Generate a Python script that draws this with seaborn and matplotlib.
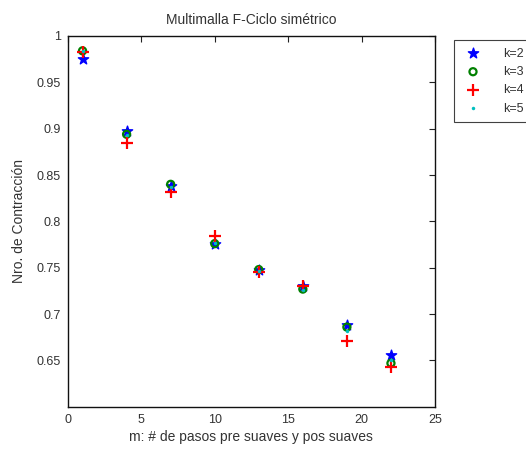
import matplotlib
matplotlib.use("Agg")
import matplotlib.pyplot as plt
import seaborn as sns
import pandas as pd

# Smoothing steps (pre and post) and contraction numbers for each k
m_steps = [1, 4, 7, 10, 13, 16, 19, 22]
k2 = [0.975, 0.897, 0.838, 0.776, 0.748, 0.730, 0.688, 0.656]
k3 = [0.984, 0.894, 0.840, 0.776, 0.748, 0.727, 0.686, 0.647]
k4 = [0.983, 0.885, 0.832, 0.784, 0.745, 0.730, 0.671, 0.643]
k5 = [0.984, 0.893, 0.837, 0.777, 0.747, 0.726, 0.682, 0.650]
labels = ["k=2", "k=3", "k=4", "k=5"]

sns.set_style("white")
plt.rcParams["font.family"] = ["Liberation Sans", "DejaVu Sans"]
text_color = "#333333"

fig = plt.figure(figsize=(5.26, 4.5), dpi=100)
ax = fig.add_axes([0.129, 0.096, 0.698, 0.824])

series = [k2, k3, k4, k5]
styles = [
    dict(marker="*", color="#0000ff", edgecolor="#0000ff", s=60, linewidth=1.0),
    dict(marker="o", facecolor="none", edgecolor="#008000", s=26, linewidth=1.6),
    dict(marker="+", color="#ff0000", s=70, linewidth=1.6),
    dict(marker=".", color="#00bfbf", s=25, linewidth=0),
]
for vals, lab, st in zip(series, labels, styles):
    df = pd.DataFrame({"m": m_steps, "c": vals})
    sns.scatterplot(data=df, x="m", y="c", ax=ax, label=lab, **st)

ax.set_xlim(0, 25)
ax.set_ylim(0.6, 1.0)
ax.set_xticks([0, 5, 10, 15, 20, 25])
ax.set_xticklabels(["0", "5", "10", "15", "20", "25"])
yt = [0.65, 0.7, 0.75, 0.8, 0.85, 0.9, 0.95, 1.0]
ax.set_yticks(yt)
ax.set_yticklabels(["0.65", "0.7", "0.75", "0.8", "0.85", "0.9", "0.95", "1"])
ax.tick_params(direction="in", length=4, width=0.8, top=True, right=True,
               labelsize=9, colors="#222222", labelcolor=text_color, pad=5)
for sp in ax.spines.values():
    sp.set_visible(True)
    sp.set_color("#111111")
    sp.set_linewidth(1.0)

ax.set_xlabel("m: # de pasos pre suaves y pos suaves", fontsize=10, color=text_color, labelpad=3)
ax.set_ylabel("Nro. de Contracción", fontsize=10, color=text_color, labelpad=8)
ax.set_title("Multimalla F-Ciclo simétrico", fontsize=10, color=text_color, pad=9)

ax.get_legend().remove()
handles, labs = ax.get_legend_handles_labels()
leg = fig.legend(handles, labs, loc="upper left", bbox_to_anchor=(448 / 526, 1 - 34 / 450),
                 fontsize=9, frameon=True, fancybox=False, edgecolor="#111111",
                 handletextpad=1.5, borderpad=0.6, labelspacing=0.5, handlelength=1.8)
leg.get_frame().set_linewidth(0.8)
for t in leg.get_texts():
    t.set_color(text_color)

fig.savefig("out.png", dpi=100)
